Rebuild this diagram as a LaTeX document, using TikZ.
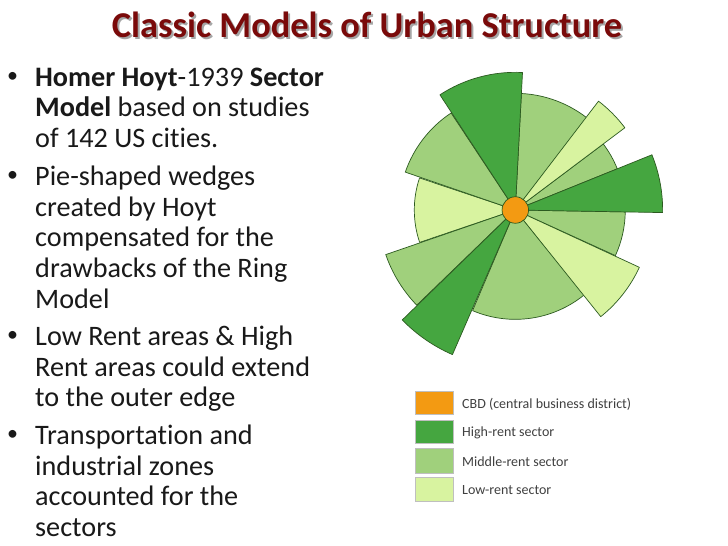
\documentclass[tikz,border=0pt]{standalone}
\usepackage{fontspec}
\setmainfont[Ligatures=NoCommon]{Carlito}
\definecolor{hi}{HTML}{45A640}
\definecolor{mi}{HTML}{A0D07C}
\definecolor{lo}{HTML}{D8F3A0}
\definecolor{cbd}{HTML}{F39A12}
\definecolor{edge}{HTML}{2C5A20}
\definecolor{ttl}{HTML}{7A0A0A}
\tikzset{
  wedgeline/.style={draw=edge,line width=0.7pt,line join=round},
  bodytext/.style={anchor=north west,align=left,inner sep=0pt,text=black!90,font=\fontsize{28.2}{30.6}\selectfont},
  bullet/.style={anchor=center,inner sep=0pt,text=black!90,font=\fontsize{22}{24}\selectfont},
  titletext/.style={inner sep=0pt,font=\fontsize{36.4}{40}\selectfont\bfseries},
  legendbox/.style={anchor=north west,inner sep=0pt,minimum width=38pt,draw=black!25,line width=0.4pt},
  legendtext/.style={anchor=west,inner sep=0pt,text=black!75,font=\fontsize{14}{16}\selectfont},
}
\newcommand{\sect}[4]{% colour, from angle, to angle, radius (zoom units)
  \fill[#1,wedgeline] (515.3,-210) -- ++(#2:#4/3) arc[start angle=#2,end angle=#3,radius=#4/3] -- cycle;}
\begin{document}
\begin{tikzpicture}[x=1pt,y=1pt]
\useasboundingbox (0,0) rectangle (728,-546);
\fill[white] (0,0) rectangle (728,-546);
% title
\node[titletext,text=black!35] (titleshadow) at (369,-26.5) {Classic Models of Urban Structure};
\node[titletext,text=ttl] (title) at (367,-24.5) {Classic Models of Urban Structure};
% bullets
\node[bullet] (b1) at (12.5,-77) {•};
\node[bodytext] (t1) at (35,-67.5) {\textbf{Homer Hoyt}-1939 \textbf{Sector}\\\textbf{Model} based on studies\\of 142 US cities.};
\node[bullet] (b2) at (12.5,-176) {•};
\node[bodytext] (t2) at (35,-166) {Pie-shaped wedges\\created by Hoyt\\compensated for the\\drawbacks of the Ring\\Model};
\node[bullet] (b3) at (12.5,-336) {•};
\node[bodytext] (t3) at (35,-326) {Low Rent areas \& High\\Rent areas could extend\\to the outer edge};
\node[bullet] (b4) at (12.5,-435) {•};
\node[bodytext] (t4) at (35,-425) {Transportation and\\industrial zones\\accounted for the\\sectors};
% sector diagram
\sect{mi}{-1}{-24.5}{330}
\sect{mi}{-51}{-113}{328}
\sect{mi}{36.9}{22}{330}
\sect{mi}{87}{52}{350}
\sect{lo}{198.7}{161.5}{303}
\sect{mi}{161}{123.5}{349}
\sect{mi}{224}{199}{411}
\sect{lo}{52.6}{36.9}{411}
\sect{hi}{22}{-1}{442}
\sect{lo}{-24.8}{-51.3}{410}
\sect{hi}{-113.5}{-135.8}{473}
\sect{hi}{123.2}{87}{413}
\node[circle,fill=cbd,wedgeline,minimum size=26.5pt,inner sep=0pt] (cbdhub) at (515.3,-210) {};
% legend
\node[legendbox,fill=cbd,minimum height=23pt] (k1) at (415,-391) {};
\node[legendbox,fill=hi,minimum height=23pt] (k2) at (415,-420) {};
\node[legendbox,fill=mi,minimum height=25pt] (k3) at (415,-448) {};
\node[legendbox,fill=lo,minimum height=24pt] (k4) at (415,-477) {};
\node[legendtext] (l1) at (462,-404) {CBD (central business district)};
\node[legendtext] (l2) at (462,-433) {High-rent sector};
\node[legendtext] (l3) at (462,-462) {Middle-rent sector};
\node[legendtext] (l4) at (462,-490) {Low-rent sector};
\end{tikzpicture}
\end{document}
